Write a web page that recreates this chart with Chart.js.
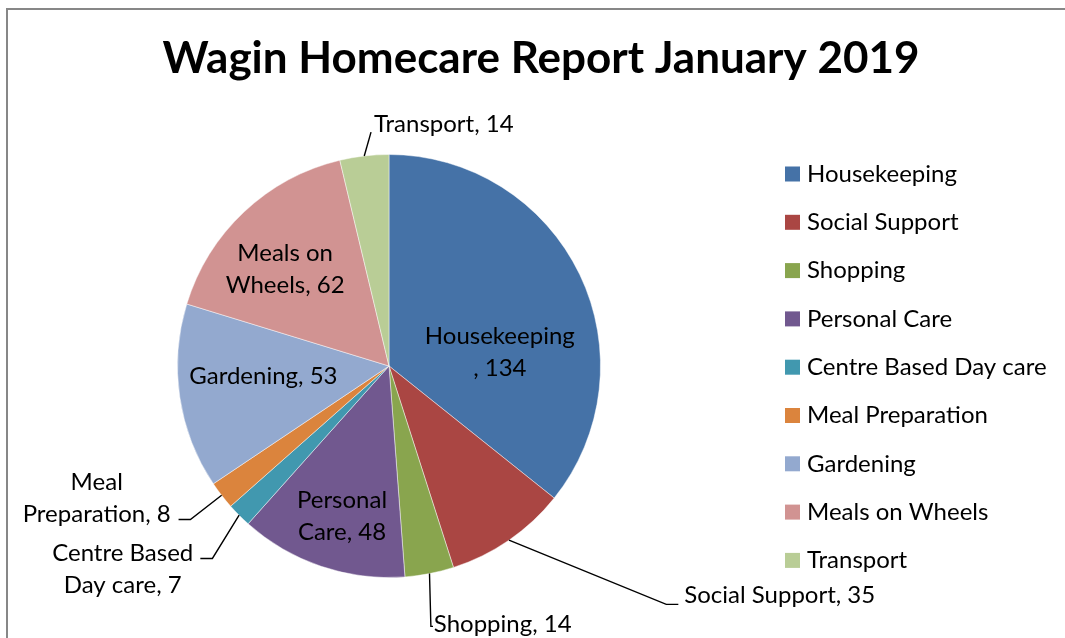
<!DOCTYPE html>
<html><head><meta charset="utf-8">
<script src="https://cdn.jsdelivr.net/npm/chart.js@4.4.1/dist/chart.umd.min.js"></script>
<style>html,body{margin:0;padding:0;background:#fff}#wrap{width:1065px;height:638px;position:relative}</style>
</head><body><div id="wrap"><canvas id="c" width="1065" height="638"></canvas></div>
<script>
const categories = ['Housekeeping','Social Support','Shopping','Personal Care','Centre Based Day care','Meal Preparation','Gardening','Meals on Wheels','Transport'];
const hours = [134, 35, 14, 48, 7, 8, 53, 62, 14];
const sliceColors = ['#4572A7','#AA4643','#89A54E','#71588F','#4198AF','#DB843D','#93A9CF','#D19392','#B9CD96'];
const chartTitle = 'Wagin Homecare Report January 2019';

// label placement, in multiples of the pie radius relative to the pie centre
const labelLayout = [
  {brk: 12, align: 'center', x: 0.524, y: -0.066},
  {brk: null, align: 'left', x: 1.396, y: 1.083, elbow: [1.311, 1.127], end: [1.368, 1.127]},
  {brk: null, align: 'left', x: 0.212, y: 1.219, elbow: [0.198, 1.231], end: [0.208, 1.231]},
  {brk: 8, align: 'center', x: -0.222, y: 0.712},
  {brk: 12, align: 'center', x: -1.259, y: 0.960, elbow: [-0.835, 0.910], end: [-0.892, 0.910]},
  {brk: 4, align: 'center', x: -1.382, y: 0.625, elbow: [-0.939, 0.726], end: [-0.995, 0.726]},
  {brk: null, align: 'center', x: -0.594, y: 0.050},
  {brk: 8, align: 'center', x: -0.491, y: -0.459},
  {brk: null, align: 'left', x: -0.071, y: -1.144, elbow: [-0.085, -1.106], end: [-0.085, -1.106]}
];

const FONT = 'Lato, "Open Sans", sans-serif';
const LABEL_SIZE = 24;
const LINE_H = 32;

const decor = {
  id: 'decor',
  afterDraw(chart) {
    const ctx = chart.ctx;
    ctx.save();
    // frame
    ctx.strokeStyle = '#878787';
    ctx.lineWidth = 2;
    ctx.beginPath();
    ctx.moveTo(7, 700); ctx.lineTo(7, 9); ctx.lineTo(1100, 9);
    ctx.stroke();
    // title
    ctx.fillStyle = '#000';
    ctx.font = 'bold 44px ' + FONT;
    ctx.textAlign = 'center';
    ctx.textBaseline = 'middle';
    ctx.fillText(chartTitle, 541, 59);
    // legend
    const ds = chart.data.datasets[0];
    ctx.font = LABEL_SIZE + 'px ' + FONT;
    ctx.textAlign = 'left';
    chart.data.labels.forEach((lab, i) => {
      const cy = 174 + i * 48.3;
      ctx.fillStyle = ds.backgroundColor[i];
      ctx.fillRect(785, cy - 7.5, 15, 15);
      ctx.fillStyle = '#000';
      ctx.fillText(lab, 807, cy);
    });
    // data labels
    const meta = chart.getDatasetMeta(0);
    meta.data.forEach((arc, i) => {
      const p = arc.getProps(['x','y','startAngle','endAngle','outerRadius'], true);
      const R = p.outerRadius;
      const mid = (p.startAngle + p.endAngle) / 2;
      const L = labelLayout[i];
      const full = chart.data.labels[i] + ', ' + ds.data[i];
      const lines = L.brk == null ? [full] : [full.slice(0, L.brk).trim(), full.slice(L.brk).trim()];
      if (L.elbow) {
        ctx.strokeStyle = '#000';
        ctx.lineWidth = 1.4;
        ctx.beginPath();
        ctx.moveTo(p.x + Math.cos(mid) * R, p.y + Math.sin(mid) * R);
        ctx.lineTo(p.x + L.elbow[0] * R, p.y + L.elbow[1] * R);
        ctx.lineTo(p.x + L.end[0] * R, p.y + L.end[1] * R);
        ctx.stroke();
      }
      ctx.fillStyle = '#000';
      ctx.textAlign = L.align;
      ctx.textBaseline = 'middle';
      const lx = p.x + L.x * R;
      const ly = p.y + L.y * R;
      lines.forEach((t, k) => {
        ctx.fillText(t, lx, ly + (k - (lines.length - 1) / 2) * LINE_H);
      });
    });
    ctx.restore();
  }
};

new Chart(document.getElementById('c'), {
  type: 'pie',
  data: {
    labels: categories,
    datasets: [{
      data: hours,
      backgroundColor: sliceColors,
      borderColor: 'rgba(255,255,255,0.45)',
      borderWidth: 1
    }]
  },
  options: {
    responsive: false,
    animation: false,
    layout: {padding: {left: 177, right: 464, top: 154, bottom: 60}},
    plugins: {legend: {display: false}, title: {display: false}, tooltip: {enabled: false}}
  },
  plugins: [decor]
});
</script>
</body></html>
